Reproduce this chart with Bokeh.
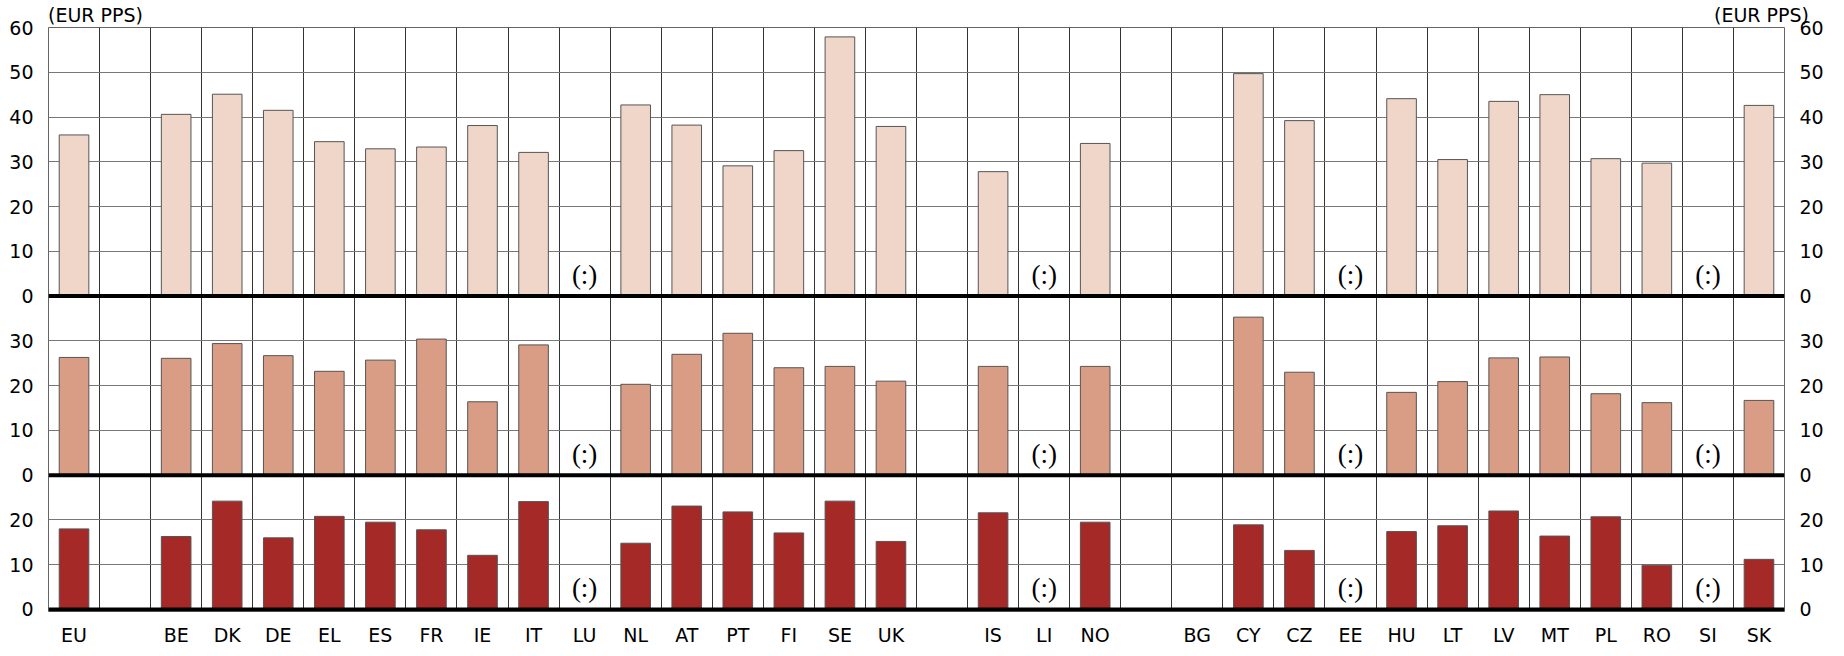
from bokeh.plotting import figure
from bokeh.models import (Range1d, FixedTicker, Span, LinearAxis, ColumnDataSource, Grid)
from bokeh.embed import file_html
from bokeh.resources import INLINE
from bokeh.core.properties import value

# ---------------- data ----------------
categories = ["EU", "", "BE", "DK", "DE", "EL", "ES", "FR", "IE", "IT", "LU", "NL", "AT",
              "PT", "FI", "SE", "UK", "", "IS", "LI", "NO", "", "BG", "CY", "CZ", "EE",
              "HU", "LT", "LV", "MT", "PL", "RO", "SI", "SK"]
not_available = ["LU", "LI", "EE", "SI"]

panel1_values = [36.0, None, 40.6, 45.1, 41.5, 34.5, 32.9, 33.3, 38.1, 32.1, None, 42.7, 38.2,
                 29.1, 32.5, 57.9, 37.9, None, 27.8, None, 34.1, None, None, 49.7, 39.2, None,
                 44.1, 30.5, 43.5, 45.0, 30.7, 29.7, None, 42.6]
panel2_values = [26.3, None, 26.1, 29.4, 26.7, 23.2, 25.7, 30.4, 16.4, 29.1, None, 20.3, 27.0,
                 31.7, 24.0, 24.3, 21.0, None, 24.3, None, 24.3, None, None, 35.3, 23.0, None,
                 18.5, 20.9, 26.2, 26.4, 18.2, 16.2, None, 16.7]
panel3_values = [18.0, None, 16.3, 24.2, 16.0, 20.8, 19.5, 17.8, 12.1, 24.1, None, 14.8, 23.1,
                 21.8, 17.1, 24.2, 15.2, None, 21.6, None, 19.5, None, None, 18.9, 13.2, None,
                 17.4, 18.7, 22.0, 16.4, 20.7, 9.9, None, 11.2]

panel_tops = [60, 40, 30]          # axis maximum of each stacked panel
panel1_ticks = [0, 10, 20, 30, 40, 50, 60]
panel2_ticks = [0, 10, 20, 30]
panel3_ticks = [0, 10, 20]
unit_label = "(EUR PPS)"
na_label = "(:)"

# ---------------- style ----------------
FONT = "DejaVu Sans"
FS = "19px"
colors = ["#EFD6C8", "#D99C84", "#A52927"]
n = len(categories)
xs = list(range(n))
PAD = 0.45
PX_PER_UNIT = 4.48

total_units = sum(panel_tops) + PAD
# offset of each panel's zero relative to the top panel's zero (same scale)
offsets = [0, -panel_tops[1], -panel_tops[1] - panel_tops[2]]

p = figure(frame_width=1736, frame_height=int(round(total_units * PX_PER_UNIT)),
           x_range=Range1d(-0.5, n - 0.5),
           y_range=Range1d(offsets[2] - PAD, panel_tops[0]),
           output_backend="svg", toolbar_location=None,
           min_border_left=48, min_border_right=44,
           min_border_top=0, min_border_bottom=0)
p.extra_y_ranges = {
    "p2": Range1d(offsets[2] - offsets[1] - PAD, panel_tops[0] - offsets[1]),
    "p3": Range1d(-PAD, panel_tops[0] - offsets[2]),
}
p.background_fill_color = "white"
p.border_fill_color = "white"
p.outline_line_color = "#666666"
p.outline_line_width = 1

# vertical grid at slot boundaries
p.xgrid.ticker = FixedTicker(ticks=[i + 0.5 for i in range(n - 1)])
p.xgrid.grid_line_color = "#333333"
p.xgrid.grid_line_width = 1
p.ygrid.visible = False

range_names = ["default", "p2", "p3"]
all_ticks = [panel1_ticks, panel2_ticks, panel3_ticks]
for rn, top, ticks in zip(range_names, panel_tops, all_ticks):
    g = Grid(dimension=1, ticker=FixedTicker(ticks=list(range(10, top + 1, 10))),
             grid_line_color="#777777", grid_line_width=1, y_range_name=rn)
    p.add_layout(g)

# y axes: one on each side, showing every panel's ticks
tick_pos, tick_lab = [], {}
for off, ticks in zip(offsets, all_ticks):
    for t in ticks:
        tick_pos.append(t + off)
        tick_lab[t + off] = str(t)

p.yaxis.visible = False
for side in ["left", "right"]:
    ax = LinearAxis(ticker=FixedTicker(ticks=tick_pos), major_label_overrides=tick_lab)
    ax.axis_line_color = None
    ax.major_tick_line_color = None
    ax.minor_tick_line_color = None
    ax.major_tick_out = 0
    ax.major_tick_in = 0
    ax.major_label_text_font = FONT
    ax.major_label_text_font_size = FS
    ax.major_label_text_color = "black"
    ax.major_label_standoff = 15
    p.add_layout(ax, side)

# bottom category axis
lab_idx = [i for i, c in enumerate(categories) if c]
p.xaxis.ticker = FixedTicker(ticks=lab_idx)
p.xaxis.major_label_overrides = {i: categories[i] for i in lab_idx}
p.xaxis.axis_line_color = None
p.xaxis.major_tick_line_color = None
p.xaxis.minor_tick_line_color = None
p.xaxis.major_tick_out = 0
p.xaxis.major_tick_in = 0
p.xaxis.major_label_text_font = FONT
p.xaxis.major_label_text_font_size = FS
p.xaxis.major_label_text_color = "black"
p.xaxis.major_label_standoff = 12

# unit labels above the chart (left and right)
unit_pos = [0.42, n - 0.95]
top_ax = LinearAxis(ticker=FixedTicker(ticks=unit_pos),
                    major_label_overrides={u: unit_label for u in unit_pos})
top_ax.axis_line_color = None
top_ax.major_tick_line_color = None
top_ax.minor_tick_line_color = None
top_ax.major_tick_out = 0
top_ax.major_tick_in = 0
top_ax.major_label_text_font = FONT
top_ax.major_label_text_font_size = FS
top_ax.major_label_text_color = "black"
top_ax.major_label_standoff = 2
p.add_layout(top_ax, "above")

# bars, n/a markers and zero lines for each panel
for rn, vals, color in zip(range_names, [panel1_values, panel2_values, panel3_values], colors):
    bx = [x for x, v in zip(xs, vals) if v is not None]
    bv = [v for v in vals if v is not None]
    src = ColumnDataSource(dict(x=bx, top=bv))
    p.vbar(x="x", top="top", bottom=0, width=0.58, source=src, y_range_name=rn,
           fill_color=color, line_color="#555555", line_width=1)

    nx = [x for x, c in zip(xs, categories) if c in not_available]
    nsrc = ColumnDataSource(dict(x=nx, y=[1.4] * len(nx), t=[na_label] * len(nx)))
    p.text(x="x", y="y", text="t", source=nsrc, y_range_name=rn, text_align="center",
           text_baseline="bottom", text_font=value("Liberation Serif"),
           text_font_size="27px", text_color="black")

    p.add_layout(Span(location=0, dimension="width", line_color="black", line_width=4,
                      y_range_name=rn))

p.min_border_bottom = 36
open("out.html", "w").write(file_html(p, INLINE))
